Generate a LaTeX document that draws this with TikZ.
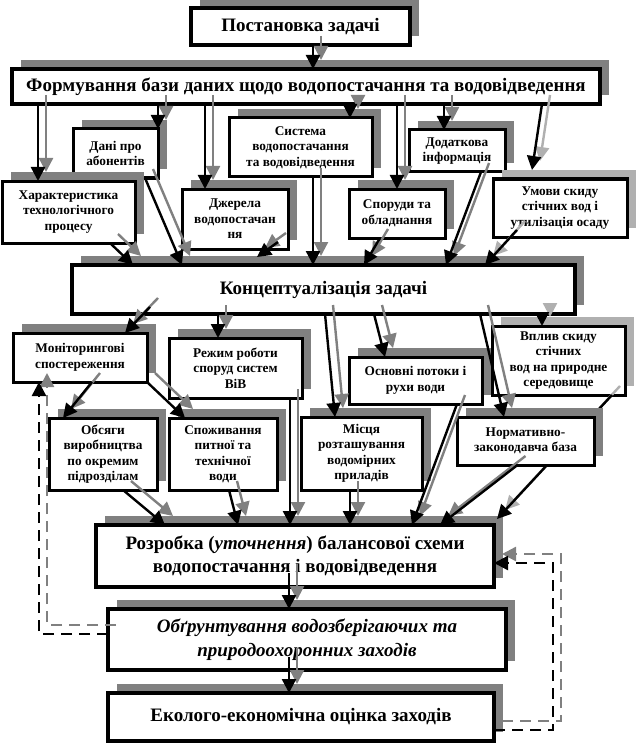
\documentclass[tikz,border=0pt]{standalone}
\usepackage{fontspec}
\setmainfont{Liberation Serif}
\usetikzlibrary{arrows.meta,calc}
\definecolor{shadowgray}{HTML}{808080}
\definecolor{dotgray}{HTML}{B0B0B0}
\tikzset{
  box/.style={draw, fill=white, line width=3pt, outer sep=0pt, inner sep=1pt, align=center,
    font=\fontsize{13.3}{15.5}\selectfont\bfseries,
    preaction={fill=#1, transform canvas={shift={(9,-9)}}}},
  box/.default=shadowgray,
  bigbox/.style={box, line width=4pt, font=\fontsize{19}{23.5}\selectfont\bfseries},
  arrline/.style={line width=2.4pt, -{Triangle[length=14pt,width=14pt]}},
  loopline/.style={dash pattern=on 11pt off 7pt}
}
% connector (from, offset, to, offset) with its grey copy shifted up and right
\newcommand{\link}[5][shadowgray]{%
  \draw[arrline, draw=#1] ($(#2)+(#3)+(8,-9)$) -- ($(#4)+(#5)+(8,-9)$);
  \draw[arrline] ($(#2)+(#3)$) -- ($(#4)+(#5)$);}
\begin{document}
\begin{tikzpicture}[x=1pt,y=-1pt]%water balance scheme
\useasboundingbox (0,0) rectangle (637,746);
\node[bigbox, minimum width=219pt, minimum height=37pt] (task) at (300.5,26.5) {Постановка задачі};
\node[bigbox, minimum width=588pt, minimum height=35pt] (base) at (306,86.5) {Формування бази даних щодо водопостачання та водовідведення};
\node[box, minimum width=85pt, minimum height=49pt] (abon) at (115.5,153.5) {Дані про\\абонентів};
\node[box, minimum width=143pt, minimum height=59pt] (sys) at (300.5,147.5) {Система\\водопостачання\\та водовідведення};
\node[box, minimum width=96pt, minimum height=42pt] (info) at (457,151) {Додаткова\\інформація};
\node[box, minimum width=133pt, minimum height=62pt] (tech) at (68.5,212) {Характеристика\\технологічного\\процесу};
\node[box, minimum width=106pt, minimum height=60pt] (src) at (235,219) {Джерела\\водопостачан\\ня};
\node[box, minimum width=96pt, minimum height=49pt] (equip) at (397,213.5) {Споруди та\\обладнання};
\node[box=dotgray, minimum width=134pt, minimum height=58pt] (cond) at (560,208) {Умови скиду\\стічних вод і\\утилізація осаду};
\node[bigbox, minimum width=503pt, minimum height=49pt] (concept) at (323.5,289.5) {Концептуалізація задачі};
\node[box, minimum width=134pt, minimum height=49pt] (monit) at (80,357.5) {Моніторингові\\спостереження};
\node[box, minimum width=133pt, minimum height=60pt] (mode) at (235.5,368) {Режим роботи\\споруд систем\\ВіВ};
\node[box, minimum width=133pt, minimum height=47pt] (flow) at (415.5,380.5) {Основні потоки і\\рухи води};
\node[box=dotgray, minimum width=133pt, minimum height=69pt] (impact) at (558.5,360.5) {Вплив скиду\\стічних\\вод на природне\\середовище};
\node[box, minimum width=108pt, minimum height=72pt] (volume) at (103,454) {Обсяги\\виробництва\\по окремим\\підрозділам};
\node[box, minimum width=108pt, minimum height=72pt] (consume) at (223,454) {Споживання\\питної та\\технічної\\води};
\node[box, minimum width=121pt, minimum height=73pt] (meter) at (361.5,453.5) {Місця\\розташування\\водомірних\\приладів};
\node[bigbox, minimum width=398pt, minimum height=62pt] (balance) at (295,556) {Розробка (\textit{уточнення}) балансової схеми\\водопостачання і водовідведення};
\node[bigbox, minimum width=398pt, minimum height=61pt, font=\fontsize{19}{23.5}\selectfont\bfseries\itshape] (measures) at (307,639.5) {Обґрунтування водозберігаючих та\\природоохоронних заходів};
\node[bigbox, minimum width=386pt, minimum height=48pt] (eval) at (301,717) {Еколого-економічна оцінка заходів};
% this one runs behind the norm box
\link[dotgray]{impact.south east}{-13,0}{balance.north east}{3,-6}
\node[box, minimum width=137pt, minimum height=48pt] (norm) at (525.5,441) {Нормативно-\\законодавча база};
% arrows
\link{task.south}{12.5,0}{base.north}{7,0}
\link{base.south west}{26,0}{tech.north west}{36,0}
\link{base.south west}{146,0}{abon.north east}{0,0}
\link{base.south west}{193,0}{src.north west}{23,0}
\link{base.south west}{338,0}{sys.north east}{-22,0}
\link{base.south west}{385,0}{equip.north}{0,0}
\link{base.south west}{432,0}{info.north}{-13,0}
\link[dotgray]{base.south west}{530,0}{cond.north}{-28,-9}
\link{tech.south east}{-25,0}{concept.north west}{61,0}
\link{abon.south east}{-13,0}{concept.north west}{110,0}
\link{src.south east}{-10,-7}{concept.north west}{185,-8}
\link{sys.south west}{84,0}{concept.north west}{241,0}
\link{equip.south}{-17,0}{concept.north west}{292,0}
\link{info.south east}{-24,0}{concept.north west}{374,0}
\link[dotgray]{cond.south west}{24,-7}{concept.north west}{413,0}
\link{concept.south west}{78,-7}{monit.north west}{112,0}
\link{concept.south west}{146,0}{mode.north west}{49,0}
\link{concept.south west}{302,0}{flow.north west}{36,0}
\link{concept.south west}{253,0}{meter.north west}{34,0}
\link{concept.south west}{408,0}{norm.north west}{47,0}
\link[dotgray]{concept.south east}{-33,0}{impact.north west}{50,0}
\link{monit.south west}{79,0}{volume.north west}{14,0}
\link{monit.south east}{0,0}{consume.north west}{16,0}
\link{mode.south east}{-12,0}{balance.north west}{194,0}
\link{volume.south west}{74,0}{balance.north west}{69,0}
\link{consume.south west}{60,0}{balance.north west}{142,0}
\link{meter.south west}{49,0}{balance.north west}{254,0}
\link{flow.south east}{-25,0}{balance.north west}{316,0}
\link{norm.south}{-8,0}{balance.north west}{344,0}
\link{balance.south}{-6,-14}{measures.north}{-18,0}
\link{measures.south}{-18,-13}{eval.north}{-12,0}
% feedback loops
\draw[arrline, loopline, draw=shadowgray] ($(measures.west)+(0,-5.5)+(8,-9)$) -| ($(monit.south west)+(26,0)+(8,-9)$);
\draw[arrline, loopline] ($(measures.west)+(0,-5.5)$) -| ($(monit.south west)+(26,0)$);
\draw[arrline, loopline, draw=shadowgray] ($(eval.east)+(0,13)+(8,-9)$) -- ++(59,0) |- ($(balance.east)+(0,7)+(8,-9)$);
\draw[arrline, loopline] ($(eval.east)+(0,13)$) -- ++(59,0) |- ($(balance.east)+(0,7)$);
\end{tikzpicture}
\end{document}
